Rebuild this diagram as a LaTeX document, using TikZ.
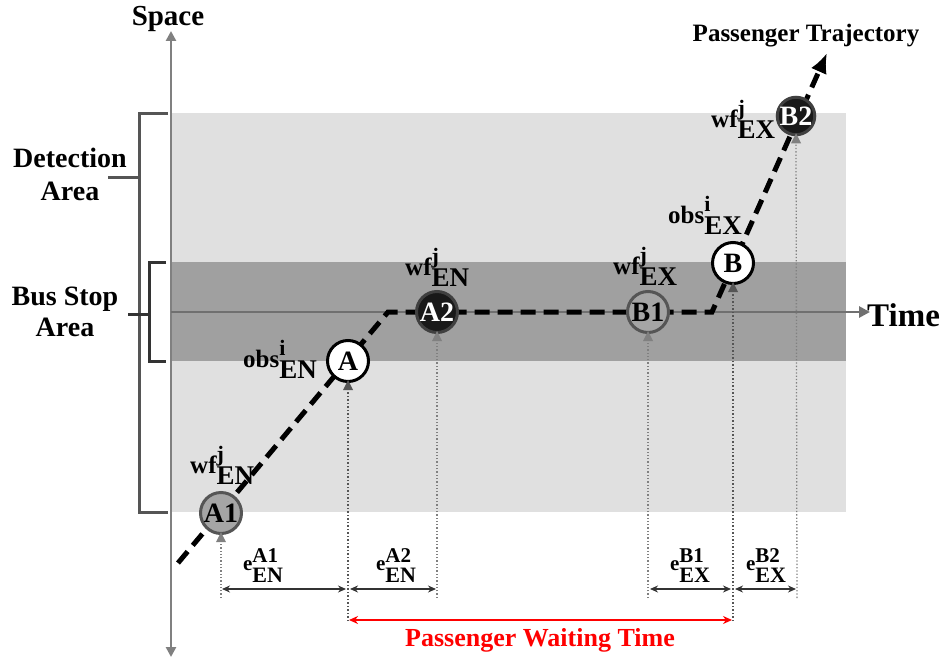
\documentclass[tikz,border=0pt]{standalone}
\usepackage{fontspec}
\setmainfont{Liberation Serif}
\usetikzlibrary{arrows.meta}
\definecolor{lightbg}{HTML}{E0E0E0}
\definecolor{darkbg}{HTML}{A0A0A0}
\definecolor{axisc}{HTML}{808080}
\definecolor{timec}{HTML}{707070}
\definecolor{brkA}{HTML}{555555}
\definecolor{brkB}{HTML}{333333}
\definecolor{redc}{HTML}{FF0000}
\newcommand\sslab[3]{{\fontsize{25}{25}\selectfont #1}\raisebox{-11pt}{\rlap{\raisebox{23pt}{\fontsize{22}{22}\selectfont #2}}{\fontsize{27}{27}\selectfont #3}}}
\newcommand\elab[3]{{\fontsize{21}{21}\selectfont #1}\raisebox{-12pt}{\rlap{\raisebox{20pt}{\fontsize{21}{21}\selectfont #2}}{\fontsize{22}{22}\selectfont #3}}}
\tikzset{
  circbase/.style={circle, minimum size=41pt, inner sep=0pt, line width=3pt, font=\bfseries\fontsize{28}{28}\selectfont},
  circgray/.style={circbase, fill=darkbg!95!white, draw=brkA},
  circwhite/.style={circbase, fill=white, draw=black},
  circblack/.style={circbase, fill=black!90, draw=black!75, text=white},
  traj/.style={line width=5pt, dash pattern=on 15pt off 8pt},
  vdot/.style={axisc, line width=1.3pt, dotted},
  vdotdark/.style={brkA, line width=1.5pt, dotted},
  dim/.style={brkB, line width=1.6pt, {Stealth[length=8pt,width=7pt]}-{Stealth[length=8pt,width=7pt]}},
  lbl/.style={inner sep=0pt, font=\bfseries},
  clbl/.style={lbl, anchor=base west},
}
\begin{document}
\begin{tikzpicture}[x=1pt,y=-1pt]
\useasboundingbox (0,0) rectangle (944,661);
% areas
\fill[lightbg] (171,113) rectangle (846,512);
\fill[darkbg] (171,262) rectangle (846,361);
% axes
\coordinate (sbot) at (171,657);
\coordinate (stop) at (171,31);
\draw[axisc, line width=2.5pt, {Triangle[width=10pt,length=10pt]}-{Triangle[width=10pt,length=10pt]}] (sbot) -- (stop);
\node[lbl, font=\bfseries\fontsize{29}{29}\selectfont] (space) at (168,19) {Space};
\coordinate (tl) at (171,312);
\coordinate (tr) at (870,312);
\draw[timec, line width=2.8pt, -{Triangle[width=11pt,length=11pt]}] (tl) -- (tr);
\node[lbl, font=\bfseries\fontsize{33}{33}\selectfont, anchor=west] (time) at (867,315) {Time};
% brackets
\draw[brkA, line width=3pt] (168,113) -- (139,113) -- (139,512) -- (168,512);
\draw[brkA, line width=3pt] (108,177) -- (139,177);
\draw[brkB, line width=3pt] (166,262) -- (149,262) -- (149,361) -- (166,361);
\draw[brkB, line width=3pt] (128,314) -- (149,314);
\node[lbl, align=center, font=\bfseries\fontsize{28}{33}\selectfont] (det) at (70,174) {Detection\\Area};
\node[lbl, align=center, font=\bfseries\fontsize{28}{31}\selectfont] (bus) at (65,312) {Bus Stop\\Area};
% trajectory
\coordinate (t0) at (178,563);
\coordinate (t1) at (388,312);
\coordinate (t2) at (712,312);
\coordinate (t3) at (827,53);
\draw[traj, -{Latex[length=20pt,width=17pt]}] (t0) -- (t1) -- (t2) -- (t3);
\node[lbl, font=\bfseries\fontsize{25}{25}\selectfont] (ptraj) at (806,36) {Passenger Trajectory};
% circles
\node[circgray] (A1) at (221,513) {A1};
\node[circwhite] (A) at (348,361) {A};
\node[circblack] (A2) at (437,312) {A2};
\node[circgray] (B1) at (648,312) {B1};
\node[circwhite] (B) at (733,263) {B};
\node[circblack, minimum size=36pt] (B2) at (796,116) {B2};
% circle labels
\node[clbl] (lA1) at (190,473) {\sslab{wf}{j}{EN}};
\node[clbl] (lA) at (243,367) {\sslab{obs}{i}{EN}};
\node[clbl] (lA2) at (405,275) {\sslab{wf}{j}{EN}};
\node[clbl] (lB1) at (613,274) {\sslab{wf}{j}{EX}};
\node[clbl] (lB) at (668,223) {\sslab{obs}{i}{EX}};
\node[clbl] (lB2) at (711,127) {\sslab{wf}{j}{EX}};
% vertical dotted lines
\coordinate (dA1) at (221,598);
\coordinate (dA) at (348,621);
\coordinate (dA2) at (437,598);
\coordinate (dB1) at (648,598);
\coordinate (dB) at (733,621);
\coordinate (dB2) at (797,598);
\draw[vdot] (dA1) -- (A1.south);
\draw[vdotdark] (dA) -- (A.south);
\draw[vdot] (dA2) -- (A2.south);
\draw[vdot] (dB1) -- (B1.south);
\draw[vdotdark] (dB) -- (B.south);
\draw[vdot] (dB2) -- (B2.south);
\foreach \n/\c in {A1/axisc, A/brkA, A2/axisc, B1/axisc, B/brkA, B2/axisc}
  \fill[\c] ([yshift=3pt]\n.south) -- ++(-5,10) -- ++(10,0) -- cycle;
% dimension arrows
\coordinate (e1a) at (222,589);
\coordinate (e1b) at (346,589);
\coordinate (e2a) at (350,589);
\coordinate (e2b) at (436,589);
\coordinate (e3a) at (650,589);
\coordinate (e3b) at (731,589);
\coordinate (e4a) at (735,589);
\coordinate (e4b) at (796,589);
\draw[dim] (e1a) -- (e1b);
\draw[dim] (e2a) -- (e2b);
\draw[dim] (e3a) -- (e3b);
\draw[dim] (e4a) -- (e4b);
\node[lbl] (eA1) at (263,566) {\elab{e}{A1}{EN}};
\node[lbl] (eA2) at (396,566) {\elab{e}{A2}{EN}};
\node[lbl] (eB1) at (690,566) {\elab{e}{B1}{EX}};
\node[lbl] (eB2) at (766,566) {\elab{e}{B2}{EX}};
% waiting time
\coordinate (w1) at (349,620);
\coordinate (w2) at (732,620);
\draw[redc, line width=1.8pt, {Stealth[length=9pt,width=8pt]}-{Stealth[length=9pt,width=8pt]}] (w1) -- (w2);
\node[lbl, text=redc, font=\bfseries\fontsize{26}{26}\selectfont] (pwt) at (540,640) {Passenger Waiting Time};
\end{tikzpicture}
\end{document}
